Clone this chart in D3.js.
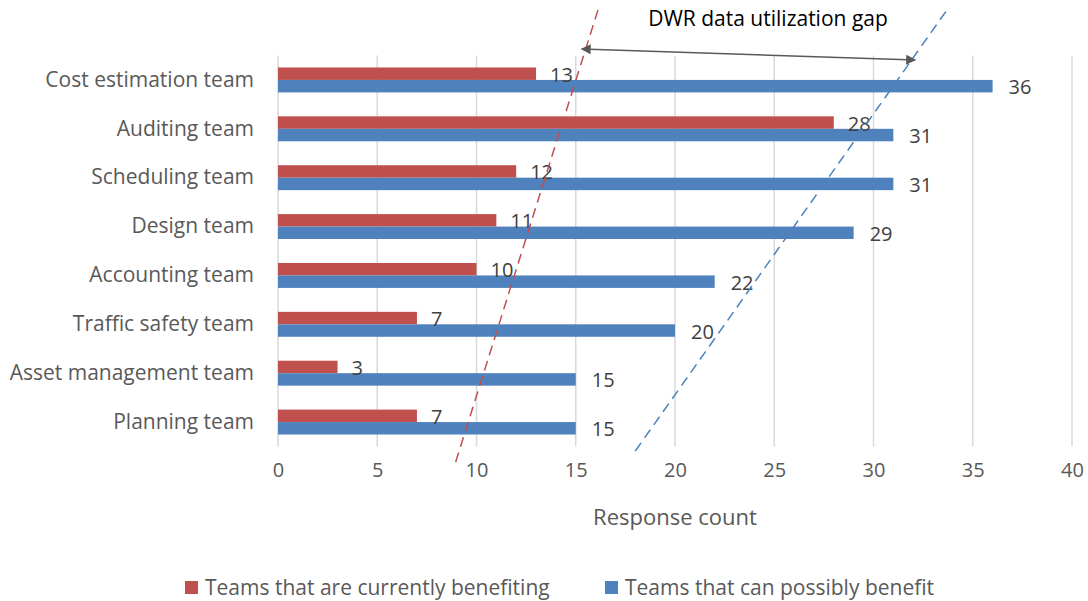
<!doctype html>
<html lang="en">
<head>
<meta charset="UTF-8">
<title>Response count</title>
<script src="https://d3js.org/d3.v7.min.js"></script>
<style>
  body { margin: 0; background: #fff; }
  svg { display: block; }
  text { font-family: "Open Sans", sans-serif; }
</style>
</head>
<body>
<svg width="1088" height="601"></svg>
<script>
const categories = ['Cost estimation team', 'Auditing team', 'Scheduling team', 'Design team',
  'Accounting team', 'Traffic safety team', 'Asset management team', 'Planning team'];
const currentlyBenefiting = [13, 28, 12, 11, 10, 7, 3, 7];
const possiblyBenefit = [36, 31, 31, 29, 22, 20, 15, 15];
const xTicks = [0, 5, 10, 15, 20, 25, 30, 35, 40];
const seriesNames = ['Teams that are currently benefiting', 'Teams that can possibly benefit'];
const colors = ['#C0504D', '#4F81BD'];

// annotation lines, given as [value, pixel y]
const redGuide = [[8.95, 462], [16.15, 8]];
const blueGuide = [[18.0, 451], [33.7, 10]];
const gapArrow = [[15.3, 49], [32.1, 60]];

const svg = d3.select('svg');
const plotLeft = 278, plotRight = 1072, plotTop = 55.5, plotBottom = 446.5;

const x = d3.scaleLinear().domain([0, 40]).range([plotLeft, plotRight]);
const y = d3.scaleBand().domain(categories).range([plotTop, plotBottom])
  .paddingInner(0.49).paddingOuter(0.245);
const barH = y.bandwidth() / 2;

// gridlines
svg.append('g')
  .selectAll('line')
  .data(xTicks)
  .join('line')
  .attr('x1', d => x(d)).attr('x2', d => x(d))
  .attr('y1', plotTop).attr('y2', plotBottom)
  .attr('stroke', '#d9d9d9')
  .attr('stroke-width', 1.5);

// x axis labels
const xAxis = svg.append('g')
  .attr('transform', `translate(0, ${plotBottom})`)
  .call(d3.axisBottom(x).tickValues(xTicks).tickSize(0).tickPadding(16));
xAxis.select('.domain').remove();
xAxis.selectAll('text')
  .attr('font-size', 20)
  .attr('fill', '#595959')
  .style('font-family', '"Open Sans", sans-serif');

// y axis labels
const yAxis = svg.append('g')
  .attr('transform', `translate(${plotLeft}, 0)`)
  .call(d3.axisLeft(y).tickSize(0).tickPadding(24));
yAxis.select('.domain').remove();
yAxis.selectAll('text')
  .attr('font-size', 21)
  .attr('fill', '#595959')
  .style('font-family', '"Open Sans", sans-serif');

const rows = categories.map((c, i) => ({ c, a: currentlyBenefiting[i], b: possiblyBenefit[i] }));

const g = svg.append('g');
g.selectAll('.red')
  .data(rows)
  .join('rect')
  .attr('class', 'red')
  .attr('x', x(0))
  .attr('y', d => y(d.c))
  .attr('width', d => x(d.a) - x(0))
  .attr('height', barH)
  .attr('fill', colors[0]);

g.selectAll('.blue')
  .data(rows)
  .join('rect')
  .attr('class', 'blue')
  .attr('x', x(0))
  .attr('y', d => y(d.c) + barH)
  .attr('width', d => x(d.b) - x(0))
  .attr('height', barH)
  .attr('fill', colors[1]);

g.selectAll('.lblA')
  .data(rows)
  .join('text')
  .attr('x', d => x(d.a) + 14)
  .attr('y', d => y(d.c) + barH / 2 + 8)
  .attr('font-size', 20)
  .attr('fill', '#404040')
  .text(d => d.a);

g.selectAll('.lblB')
  .data(rows)
  .join('text')
  .attr('x', d => x(d.b) + 16)
  .attr('y', d => y(d.c) + barH * 1.5 + 8)
  .attr('font-size', 20)
  .attr('fill', '#404040')
  .text(d => d.b);

// axis title
svg.append('text')
  .attr('x', (plotLeft + plotRight) / 2)
  .attr('y', 525)
  .attr('text-anchor', 'middle')
  .attr('font-size', 22)
  .attr('fill', '#595959')
  .text('Response count');

// dashed guides
const line = d3.line().x(d => x(d[0])).y(d => d[1]);
svg.append('path').attr('d', line(redGuide))
  .attr('stroke', colors[0]).attr('stroke-width', 1.5)
  .attr('stroke-dasharray', '10,6').attr('fill', 'none');
svg.append('path').attr('d', line(blueGuide))
  .attr('stroke', colors[1]).attr('stroke-width', 1.5)
  .attr('stroke-dasharray', '10,6').attr('fill', 'none');

// gap arrow
const defs = svg.append('defs');
defs.append('marker')
  .attr('id', 'arr')
  .attr('viewBox', '0 0 10 10')
  .attr('refX', 9).attr('refY', 5)
  .attr('markerWidth', 12).attr('markerHeight', 10)
  .attr('markerUnits', 'userSpaceOnUse')
  .attr('orient', 'auto-start-reverse')
  .append('path').attr('d', 'M0,0 L10,5 L0,10 Z').attr('fill', '#595959');
svg.append('path').attr('d', line(gapArrow))
  .attr('stroke', '#595959').attr('stroke-width', 1.5).attr('fill', 'none')
  .attr('marker-start', 'url(#arr)').attr('marker-end', 'url(#arr)');

svg.append('text')
  .attr('x', 768).attr('y', 26)
  .attr('text-anchor', 'middle')
  .attr('font-size', 21)
  .attr('fill', '#000')
  .text('DWR data utilization gap');

// legend
const legendX = [185, 605];
const lg = svg.append('g').selectAll('g')
  .data(seriesNames)
  .join('g')
  .attr('transform', (d, i) => `translate(${legendX[i]}, 581)`);
lg.append('rect').attr('width', 13).attr('height', 13).attr('fill', (d, i) => colors[i]);
lg.append('text').attr('x', 20).attr('y', 14)
  .attr('font-size', 21).attr('fill', '#595959')
  .text(d => d);
</script>
</body>
</html>
